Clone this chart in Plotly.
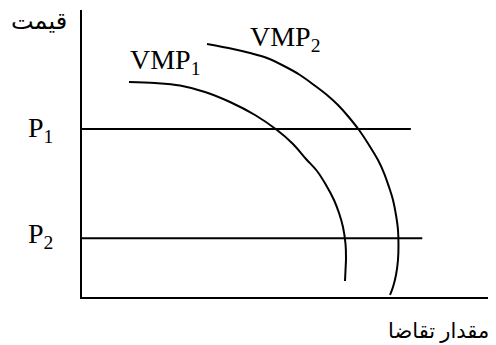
import plotly.graph_objects as go

# curve points (x = quantity, y = price)
vmp1_x = [1.149, 1.785, 2.396, 3.007, 3.619, 4.230, 4.768, 5.159, 5.477,
          5.746, 5.966, 6.161, 6.284, 6.381, 6.443, 6.455, 6.443, 6.430]
vmp1_y = [5.244, 5.220, 5.159, 5.000, 4.756, 4.439, 4.073, 3.732, 3.366,
          3.073, 2.732, 2.366, 2.049, 1.707, 1.293, 0.951, 0.659, 0.390]

vmp2_x = [3.056, 3.692, 4.108, 4.523, 4.939, 5.330, 5.672, 5.990, 6.259, 6.479, 6.773, 7.017,
          7.237, 7.384, 7.506, 7.604, 7.677, 7.726, 7.738, 7.726, 7.677, 7.604, 7.531]
vmp2_y = [6.171, 6.049, 5.951, 5.829, 5.634, 5.415, 5.171, 4.927, 4.683, 4.439, 4.073, 3.707,
          3.341, 3.024, 2.683, 2.366, 2.000, 1.634, 1.268, 0.902, 0.537, 0.244, 0.049]

# price levels and where their lines end
p_levels = [4.10, 1.43]
p_ends = [8.04, 8.32]
p_labels = ["P<sub>1</sub>", "P<sub>2</sub>"]

serif = "Liberation Serif, Times New Roman, DejaVu Sans"

fig = go.Figure()

for xs, ys in [(vmp1_x, vmp1_y), (vmp2_x, vmp2_y)]:
    fig.add_trace(go.Scatter(x=xs, y=ys, mode="lines",
                             line=dict(color="black", width=2, shape="spline", smoothing=1),
                             hoverinfo="skip"))

for lvl, end in zip(p_levels, p_ends):
    fig.add_trace(go.Scatter(x=[0, end], y=[lvl, lvl], mode="lines",
                             line=dict(color="black", width=2),
                             hoverinfo="skip"))

big = dict(size=28, family=serif, color="black")

ann = [
    dict(x=-0.066, y=0.582, text=p_labels[0], xanchor="right", yanchor="middle", font=big),
    dict(x=-0.066, y=0.216, text=p_labels[1], xanchor="right", yanchor="middle", font=big),
    dict(x=0.112, y=0.819, text="VMP<sub>1</sub>", xanchor="left", yanchor="middle", font=big),
    dict(x=0.406, y=0.902, text="VMP<sub>2</sub>", xanchor="left", yanchor="middle", font=big),
    dict(x=-0.105, y=0.962, text="قیمت", xanchor="center", yanchor="middle",
         font=dict(size=24, family=serif, color="black")),
    dict(x=1.0, y=-0.118, text="مقدار تقاضا", xanchor="right", yanchor="middle",
         font=dict(size=21, family=serif, color="black")),
]
for a in ann:
    a.update(xref="paper", yref="paper", showarrow=False)

fig.update_layout(
    width=488, height=337,
    margin=dict(l=74, r=5, t=2, b=48),
    plot_bgcolor="white", paper_bgcolor="white",
    showlegend=False,
    annotations=ann,
)
fig.update_xaxes(range=[0, 10], showgrid=False, zeroline=False, showticklabels=False,
                 showline=True, linecolor="black", linewidth=2, ticks="")
fig.update_yaxes(range=[0, 7], showgrid=False, zeroline=False, showticklabels=False,
                 showline=True, linecolor="black", linewidth=2, ticks="")

fig.write_html("out.html")
